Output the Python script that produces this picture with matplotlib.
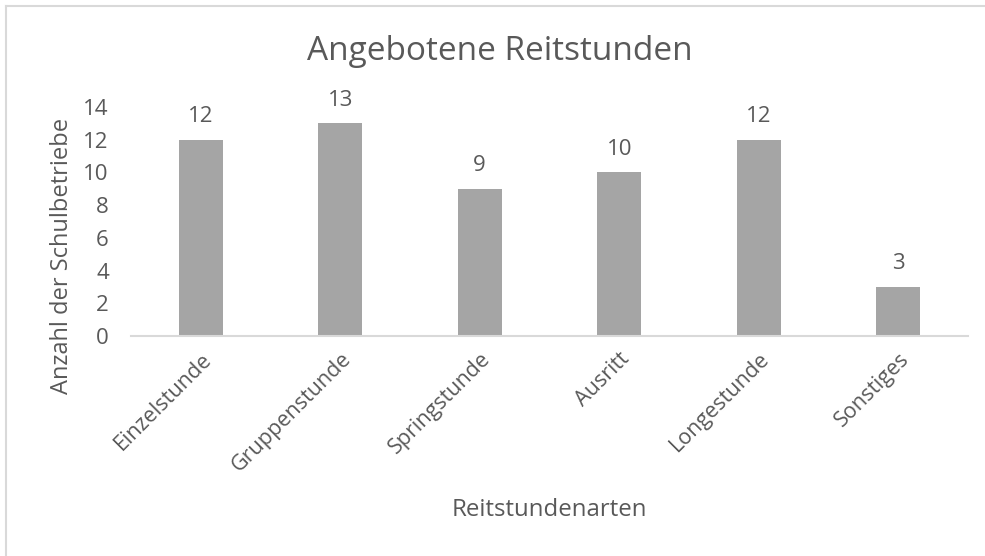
import matplotlib
matplotlib.use("Agg")
import matplotlib.pyplot as plt
from matplotlib.lines import Line2D

categories = ["Einzelstunde", "Gruppenstunde", "Springstunde", "Ausritt", "Longestunde", "Sonstiges"]
values = [12, 13, 9, 10, 12, 3]
yticks = [0, 2, 4, 6, 8, 10, 12, 14]

plt.rcParams['font.family'] = ['Open Sans', 'DejaVu Sans']
txt = '#595959'

fig = plt.figure(figsize=(9.85, 5.56), dpi=100)
ax = fig.add_axes([131/985, 1-336/556, 837/985, 229/556])

x = list(range(len(categories)))
ax.bar(x, values, width=0.315, color='#A5A5A5', zorder=2)
for xi, v in zip(x, values):
    ax.annotate(str(v), (xi, v), xytext=(0, 9), textcoords='offset points',
                ha='center', va='bottom', fontsize=16, color=txt)

ax.set_xlim(-0.5, len(categories) - 0.5)
ax.set_ylim(0, 14)
ax.set_yticks(yticks)
ax.set_yticklabels([str(t) for t in yticks], fontsize=16, color=txt)
ax.set_xticks(x)
ax.set_xticklabels(categories, rotation=45, ha='right', rotation_mode='anchor',
                   fontsize=15.5, color=txt)
ax.tick_params(axis='both', length=0)
ax.tick_params(axis='x', pad=9)
ax.tick_params(axis='y', pad=16)
for s in ['top', 'right', 'left']:
    ax.spines[s].set_visible(False)
ax.spines['bottom'].set_color('#D9D9D9')
ax.spines['bottom'].set_linewidth(1.5)

fig.text(62/985, 1-256/556, "Anzahl der Schulbetriebe", fontsize=17, color=txt,
         ha='center', va='center', rotation=90)
fig.text(549/985, 1-510/556, "Reitstundenarten", fontsize=17.3, color=txt,
         ha='center', va='center')
fig.text(500/985, 1-52/556, "Angebotene Reitstunden", fontsize=24, color=txt,
         ha='center', va='center')

# chart border (top and left visible)
fig.add_artist(Line2D([6/985, 6/985], [0, 1-6/556], color='#D9D9D9', lw=1.5,
                      transform=fig.transFigure))
fig.add_artist(Line2D([6/985, 1], [1-6/556, 1-6/556], color='#D9D9D9', lw=1.5,
                      transform=fig.transFigure))

fig.savefig("out.png", dpi=100, facecolor='white')
